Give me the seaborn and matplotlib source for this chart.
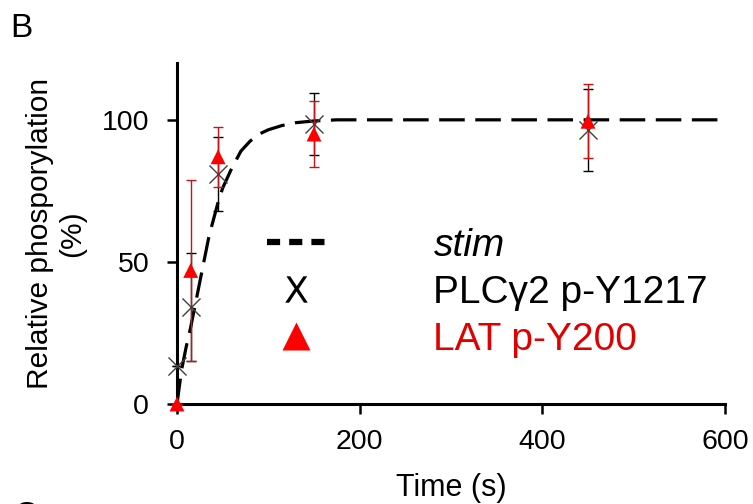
import matplotlib
matplotlib.use("Agg")
import matplotlib.pyplot as plt
from matplotlib.lines import Line2D
import seaborn as sns
import pandas as pd

# ---- data ----
times = [0, 15, 45, 150, 450]
plc_vals = [13.5, 34, 81, 98.5, 96.5]
plc_err = [0, 19, 13, 11, 14.5]
lat_vals = [0, 47, 87, 95, 99.5]
lat_err = [0, 32, 10.5, 11.5, 13]

fit_t = [0, 5, 10, 15, 20, 25, 30, 35, 40, 45, 50, 60, 70, 80, 90, 100, 115, 130, 150, 175, 600]
fit_y = [0, 12, 20, 27, 35, 43, 51, 59, 65, 71, 76, 83, 89, 92.5, 95, 96.5, 98, 99, 99.6, 100, 100]

xticks = [0, 200, 400, 600]
yticks = [0, 50, 100]
legend_labels = ["stim", "PLCγ2 p-Y1217", "LAT p-Y200"]

RED = "#ff0000"
RED_TXT = "#e00000"
RED_ERR = "#d01010"

sns.set_theme(style="ticks")
plt.rcParams["font.family"] = ["Liberation Sans", "DejaVu Sans"]
plt.rcParams["text.color"] = "black"

fig = plt.figure(figsize=(7.53, 5.04), dpi=100)
ax = fig.add_axes([177 / 753, 100 / 504, 548 / 753, 341 / 504])

fit_df = pd.DataFrame({"t": fit_t, "y": fit_y})
sns.lineplot(data=fit_df, x="t", y="y", ax=ax, color="black", lw=2.3,
             linestyle=(0, (8, 3.3)), estimator=None, sort=False, zorder=2)

ax.errorbar(times, plc_vals, yerr=plc_err, fmt="none", ecolor="black",
            elinewidth=1.0, capsize=3.3, capthick=1.0, zorder=3, clip_on=False)
ax.errorbar(times, lat_vals, yerr=lat_err, fmt="none", ecolor=RED_ERR,
            elinewidth=1.0, capsize=3.3, capthick=1.0, zorder=4, clip_on=False)

sns.scatterplot(x=times, y=plc_vals, ax=ax, marker="x", s=169, color="#404040",
                linewidth=1.0, zorder=5, clip_on=False)
sns.scatterplot(x=times, y=lat_vals, ax=ax, marker="^", s=115, color=RED,
                edgecolor="none", zorder=6, clip_on=False)

ax.set_xlim(0, 600)
ax.set_ylim(0, 120)
ax.set_xticks(xticks)
ax.set_yticks(yticks)
sns.despine(ax=ax)
for s in ["left", "bottom"]:
    ax.spines[s].set_linewidth(2.2)
    ax.spines[s].set_color("black")
ax.tick_params(axis="both", length=7, width=1.8, labelsize=20.5, colors="black")
ax.tick_params(axis="y", pad=13)
ax.tick_params(axis="x", pad=11)

ax.set_xlabel("Time (s)", fontsize=22, labelpad=13, color="black")
ax.set_ylabel("Relative phosporylation\n(%)", fontsize=21.5, labelpad=11.5,
              color="black", linespacing=1.17)

h1 = Line2D([], [], color="black", lw=4.5, linestyle=(0, (2.1, 1.45)))
h2 = Line2D([], [], ls="none", marker=r"$\mathrm{X}$", markersize=19,
            color="black", markeredgewidth=0.0)
h3 = Line2D([], [], ls="none", marker="^", markersize=20, color=RED, mec="none")
leg = ax.legend([h1, h2, h3], legend_labels, loc="upper left",
                bbox_to_anchor=((267 - 177) / 548, (404 - 228) / 341),
                frameon=False, fontsize=28, handlelength=1.5, handletextpad=2.78,
                labelspacing=0.28, borderpad=0, borderaxespad=0)
texts = leg.get_texts()
for t in texts:
    t.set_color("black")
texts[0].set_fontstyle("italic")
texts[2].set_color(RED_TXT)

fig.text(10 / 753, 1 - 37 / 504, "B", fontsize=24, va="baseline", ha="left", color="black")
fig.text(13 / 753, 1 - 525 / 504, "C", fontsize=24, va="baseline", ha="left", color="black")

fig.savefig("out.png", dpi=100, facecolor="white")
